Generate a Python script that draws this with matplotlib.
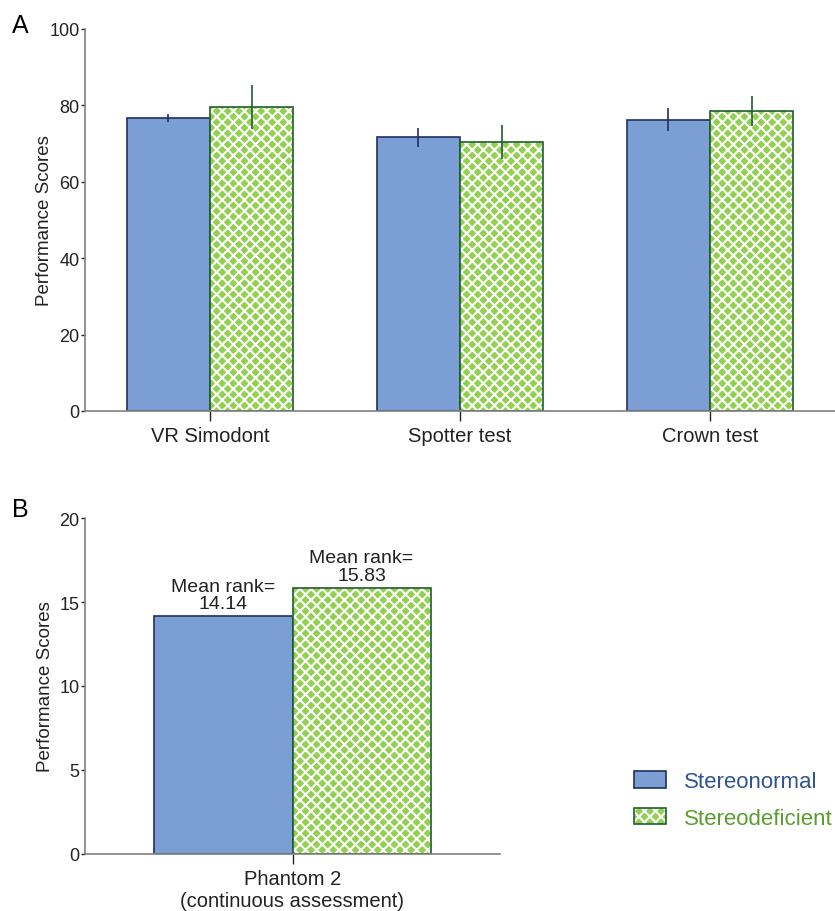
import matplotlib.pyplot as plt
from matplotlib.patches import Patch
from matplotlib.legend_handler import HandlerTuple
import numpy as np

plt.rcParams['font.family'] = ['Liberation Sans', 'DejaVu Sans']
plt.rcParams['hatch.linewidth'] = 1.5

# Panel A data
tests = ['VR Simodont', 'Spotter test', 'Crown test']
normal_mean = [76.7, 71.7, 76.2]
normal_err = [1.0, 2.5, 3.0]
deficient_mean = [79.6, 70.4, 78.5]
deficient_err = [5.8, 4.5, 4.0]

# Panel B data
phantom_label = ['Phantom 2\n(continuous assessment)']
normal_rank = [14.14]
deficient_rank = [15.83]

blue_face = '#7b9fd4'
blue_edge = '#1f3060'
green_face = '#92d050'
green_edge = '#1e5e30'
spine_col = '#808080'
HATCH = 'xxx'

fig = plt.figure(figsize=(8.35, 9.12), dpi=100)

def style_axes(ax):
    for s in ['top', 'right']:
        ax.spines[s].set_visible(False)
    ax.spines['left'].set_color(spine_col)
    ax.spines['bottom'].set_color(spine_col)
    ax.spines['left'].set_linewidth(1.2)
    ax.spines['bottom'].set_linewidth(1.2)
    ax.tick_params(axis='y', colors='#222222', labelsize=13, length=3, width=1, pad=1)
    ax.tick_params(axis='x', colors='#222222', labelsize=14.5, length=7, width=1, pad=4)

# green hatched bars: hatch in white over green, separate dark edge
def green_bars(ax, x, h, w):
    ax.bar(x, h, w, align='edge', color=green_face, hatch=HATCH,
           edgecolor='white', linewidth=0)
    ax.bar(x, h, w, align='edge', fill=False, edgecolor=green_edge, linewidth=1.2)

# ---- Panel A
axA = fig.add_axes([85/835, 1-412/912, 750/835, 382/912])
x = np.arange(len(tests))
w = 0.333
axA.bar(x - w, normal_mean, w, align='edge', color=blue_face, edgecolor=blue_edge, linewidth=1.2)
green_bars(axA, x, deficient_mean, w)
axA.errorbar(x - w/2, normal_mean, yerr=normal_err, fmt='none', ecolor=blue_edge, elinewidth=1.2)
axA.errorbar(x + w/2, deficient_mean, yerr=deficient_err, fmt='none', ecolor=green_edge, elinewidth=1.2)
axA.set_xlim(-0.5, 2.5)
axA.set_ylim(0, 100)
axA.set_yticks([0, 20, 40, 60, 80, 100])
axA.set_xticks(x)
axA.set_xticklabels(tests)
axA.set_ylabel('Performance Scores', fontsize=13.5, color='#222222', labelpad=-3)
style_axes(axA)
fig.text(12/835, 1-26/912, 'A', fontsize=18, va='center')

# ---- Panel B
axB = fig.add_axes([85/835, 1-855/912, 415/835, 336/912])
xb = np.arange(len(phantom_label))
axB.bar(xb - w, normal_rank, w, align='edge', color=blue_face, edgecolor=blue_edge, linewidth=1.2)
green_bars(axB, xb, deficient_rank, w)
axB.set_xlim(-0.5, 0.5)
axB.set_ylim(0, 20)
axB.set_yticks([0, 5, 10, 15, 20])
axB.set_xticks(xb)
axB.set_xticklabels(phantom_label)
axB.set_ylabel('Performance Scores', fontsize=13.5, color='#222222', labelpad=4)
style_axes(axB)
for xi, v in zip(xb - w/2, normal_rank):
    axB.text(xi, v + 0.25, f'Mean rank=\n{v:.2f}', ha='center', va='bottom',
             fontsize=14, color='#222222', linespacing=1.05)
for xi, v in zip(xb + w/2, deficient_rank):
    axB.text(xi, v + 0.25, f'Mean rank=\n{v:.2f}', ha='center', va='bottom',
             fontsize=14, color='#222222', linespacing=1.05)
fig.text(12/835, 1-510/912, 'B', fontsize=18, va='center')

# legend
h_norm = Patch(facecolor=blue_face, edgecolor=blue_edge, linewidth=1.2)
h_def = (Patch(facecolor=green_face, hatch=HATCH, edgecolor='white', linewidth=0),
         Patch(fill=False, edgecolor=green_edge, linewidth=1.2))
leg = fig.legend([h_norm, h_def], ['Stereonormal', 'Stereodeficient'],
                 handler_map={tuple: HandlerTuple(ndivide=1)},
                 loc='center left', bbox_to_anchor=(614/835, 1-801/912),
                 frameon=False, fontsize=16, handlelength=1.45, handleheight=0.75,
                 labelspacing=0.7, handletextpad=0.8)
leg.get_texts()[0].set_color('#2f5597')
leg.get_texts()[1].set_color('#5a9e2f')

fig.savefig('out.png', dpi=100)
